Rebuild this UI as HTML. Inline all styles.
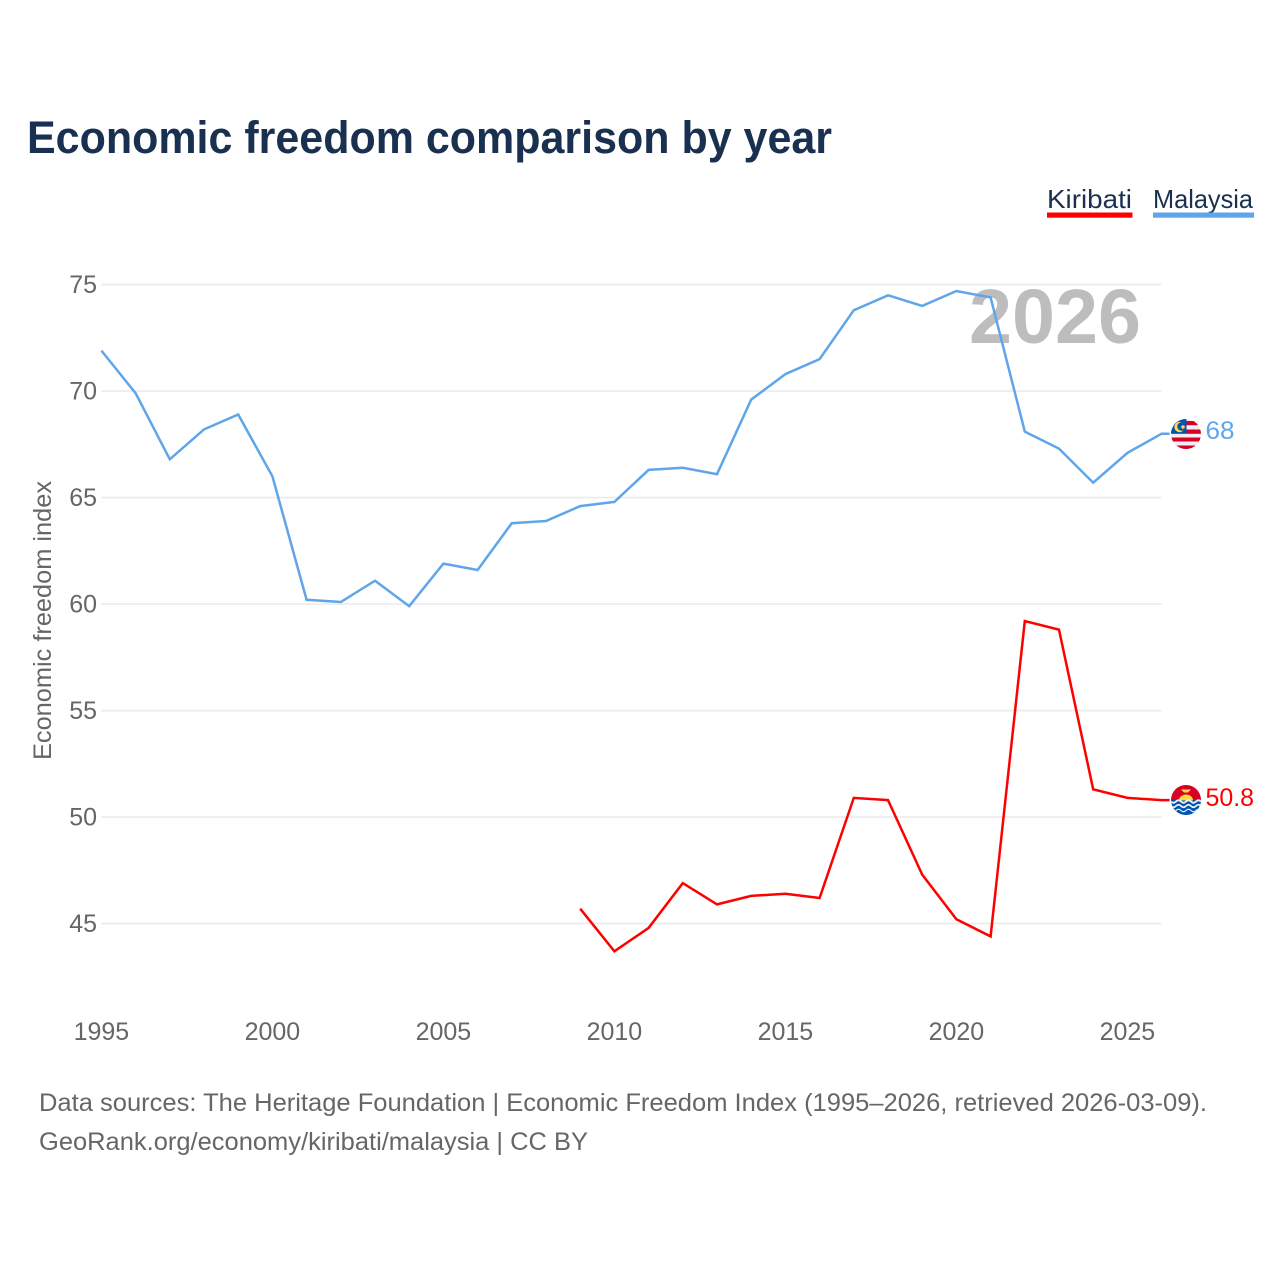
<!DOCTYPE html>
<html lang="en">
<head>
<meta charset="utf-8">
<title>Economic freedom comparison by year</title>
<style>
html,body{margin:0;padding:0;background:#fff;width:1280px;height:1280px;overflow:hidden}
svg{display:block}
text{font-family:"Liberation Sans",sans-serif}
</style>
</head>
<body>
<svg id="chart" xmlns="http://www.w3.org/2000/svg" width="1280" height="1280" viewBox="0 0 1280 1280">
  <defs>
    <clipPath id="clip-my"><circle cx="1186" cy="434" r="15"/></clipPath>
    <clipPath id="clip-ki"><circle cx="1186" cy="800" r="15"/></clipPath>
  </defs>
  <rect x="0" y="0" width="1280" height="1280" fill="#ffffff"/>
  <text x="27" y="153" font-size="45" font-weight="700" fill="#1a3050" textLength="805" lengthAdjust="spacingAndGlyphs">Economic freedom comparison by year</text>

  <g>
    <text x="1047" y="208" font-size="26" fill="#1a3050" textLength="85" lengthAdjust="spacingAndGlyphs">Kiribati</text>
    <rect x="1047" y="212.500" width="85.500" height="5.200" fill="#ff0000"/>
  </g>
  <g>
    <text x="1153" y="208" font-size="26" fill="#1a3050" textLength="100" lengthAdjust="spacingAndGlyphs">Malaysia</text>
    <rect x="1153" y="212.500" width="101" height="5.200" fill="#5fa5ea"/>
  </g>

  <text x="969" y="343" font-size="77" font-weight="700" fill="#bdbdbd" textLength="172" lengthAdjust="spacingAndGlyphs">2026</text>

  <g id="grid"></g>
  <g id="y-ticks"></g>
  <g id="x-ticks"></g>
  <text transform="translate(51,620.500) rotate(-90)" text-anchor="middle" font-size="25" fill="#666666" textLength="279" lengthAdjust="spacingAndGlyphs">Economic freedom index</text>
  <g id="series"></g>

  <g clip-path="url(#clip-my)">
    <rect x="1171" y="419" width="30" height="30" fill="#f0f0f0"/>
    <rect x="1171" y="421" width="30" height="4.200" fill="#d80027"/>
    <rect x="1171" y="429.500" width="30" height="4.300" fill="#d80027"/>
    <rect x="1171" y="437.500" width="30" height="4" fill="#d80027"/>
    <rect x="1171" y="445.500" width="30" height="4" fill="#d80027"/>
    <rect x="1171" y="419" width="15.500" height="14.500" fill="#0052b4"/>
    <circle cx="1179.500" cy="427" r="5.200" fill="#ffda44"/>
    <circle cx="1181.500" cy="426.500" r="4.200" fill="#0052b4"/>
    <circle cx="1183" cy="427" r="1.800" fill="#ffda44"/>
  </g>
  <g clip-path="url(#clip-ki)">
    <rect x="1171" y="785" width="30" height="16" fill="#d80027"/>
    <rect x="1171" y="800" width="30" height="15" fill="#0052b4"/>
    <path d="M1179 800.500a7 6 0 0 1 14 0z" fill="#ffda44"/>
    <path d="M1181 789.500h10l-3 3h-4z" fill="#ffda44"/>
    <path d="M1171 801.500q2.500 2.500 5 0t5 0q2.500 2.500 5 0t5 0q2.500 2.500 5 0t5 0" fill="none" stroke="#f0f0f0" stroke-width="1.800"/>
    <path d="M1171 806q2.500 2.500 5 0t5 0q2.500 2.500 5 0t5 0q2.500 2.500 5 0t5 0" fill="none" stroke="#f0f0f0" stroke-width="1.600"/>
    <path d="M1171 810.500q2.500 2.500 5 0t5 0q2.500 2.500 5 0t5 0q2.500 2.500 5 0t5 0" fill="none" stroke="#f0f0f0" stroke-width="1.200"/>
  </g>

  <text x="1205.500" y="439" font-size="25" fill="#5fa5ea" textLength="29" lengthAdjust="spacingAndGlyphs">68</text>
  <text x="1205.500" y="806" font-size="25" fill="#ff0000" textLength="48.500" lengthAdjust="spacingAndGlyphs">50.8</text>

  <text x="39" y="1111" font-size="25" fill="#666666" textLength="1168" lengthAdjust="spacingAndGlyphs">Data sources: The Heritage Foundation | Economic Freedom Index (1995–2026, retrieved 2026-03-09).</text>
  <text x="39" y="1150" font-size="25" fill="#666666" textLength="549" lengthAdjust="spacingAndGlyphs">GeoRank.org/economy/kiribati/malaysia | CC BY</text>
</svg>
<script>
const malaysiaYears = [1995,1996,1997,1998,1999,2000,2001,2002,2003,2004,2005,2006,2007,2008,2009,2010,2011,2012,2013,2014,2015,2016,2017,2018,2019,2020,2021,2022,2023,2024,2025,2026];
const malaysiaValues = [71.9,69.9,66.8,68.2,68.9,66.0,60.2,60.1,61.1,59.9,61.9,61.6,63.8,63.9,64.6,64.8,66.3,66.4,66.1,69.6,70.8,71.5,73.8,74.5,74.0,74.7,74.4,68.1,67.3,65.7,67.1,68.0];
const kiribatiYears = [2009,2010,2011,2012,2013,2014,2015,2016,2017,2018,2019,2020,2021,2022,2023,2024,2025,2026];
const kiribatiValues = [45.7,43.7,44.8,46.9,45.9,46.3,46.4,46.2,50.9,50.8,47.3,45.2,44.4,59.2,58.8,51.3,50.9,50.8];
const yTickValues = [45,50,55,60,65,70,75];
const xTickValues = [1995,2000,2005,2010,2015,2020,2025];

const NS = 'http://www.w3.org/2000/svg';
function xScale(year) { return 101.4 + (year - 1995) * 34.2; }
function yScale(value) { return 923.6 - (value - 45) * 21.3; }

const gridGroup = document.getElementById('grid');
const yTickGroup = document.getElementById('y-ticks');
const xTickGroup = document.getElementById('x-ticks');
const seriesGroup = document.getElementById('series');

yTickValues.forEach(function (tick) {
  const line = document.createElementNS(NS, 'line');
  
  
  line.setAttribute('x1', xScale(1995));
  line.setAttribute('x2', xScale(2026));
  line.setAttribute('y1', yScale(tick));
  line.setAttribute('y2', yScale(tick));
  line.setAttribute('stroke', '#ebebeb');
  line.setAttribute('stroke-width', '1.6');
  gridGroup.appendChild(line);

  const label = document.createElementNS(NS, 'text');
  
  
  label.setAttribute('x', 97);
  label.setAttribute('y', yScale(tick) + 8.5);
  label.setAttribute('text-anchor', 'end');
  label.setAttribute('font-size', '25');
  label.setAttribute('fill', '#666666');
  label.textContent = String(tick);
  yTickGroup.appendChild(label);
});

xTickValues.forEach(function (tick) {
  const label = document.createElementNS(NS, 'text');
  
  
  label.setAttribute('x', xScale(tick));
  label.setAttribute('y', 1040);
  label.setAttribute('text-anchor', 'middle');
  label.setAttribute('font-size', '25');
  label.setAttribute('fill', '#666666');
  label.textContent = String(tick);
  xTickGroup.appendChild(label);
});

function seriesPath(years, values) {
  let d = '';
  years.forEach(function (year, i) {
    d += (i ? 'L' : 'M') + xScale(year).toFixed(1) + ' ' + yScale(values[i]).toFixed(1);
  });
  const last = values[values.length - 1];
  d += 'L' + (xScale(years[years.length - 1]) + 8).toFixed(1) + ' ' + yScale(last).toFixed(1);
  return d;
}

const malaysiaLine = document.createElementNS(NS, 'path');


malaysiaLine.setAttribute('d', seriesPath(malaysiaYears, malaysiaValues));
malaysiaLine.setAttribute('fill', 'none');
malaysiaLine.setAttribute('stroke', '#5fa5ea');
malaysiaLine.setAttribute('stroke-width', '2.5');
seriesGroup.appendChild(malaysiaLine);

const kiribatiLine = document.createElementNS(NS, 'path');


kiribatiLine.setAttribute('d', seriesPath(kiribatiYears, kiribatiValues));
kiribatiLine.setAttribute('fill', 'none');
kiribatiLine.setAttribute('stroke', '#ff0000');
kiribatiLine.setAttribute('stroke-width', '2.5');
seriesGroup.appendChild(kiribatiLine);
</script>
</body>
</html>
